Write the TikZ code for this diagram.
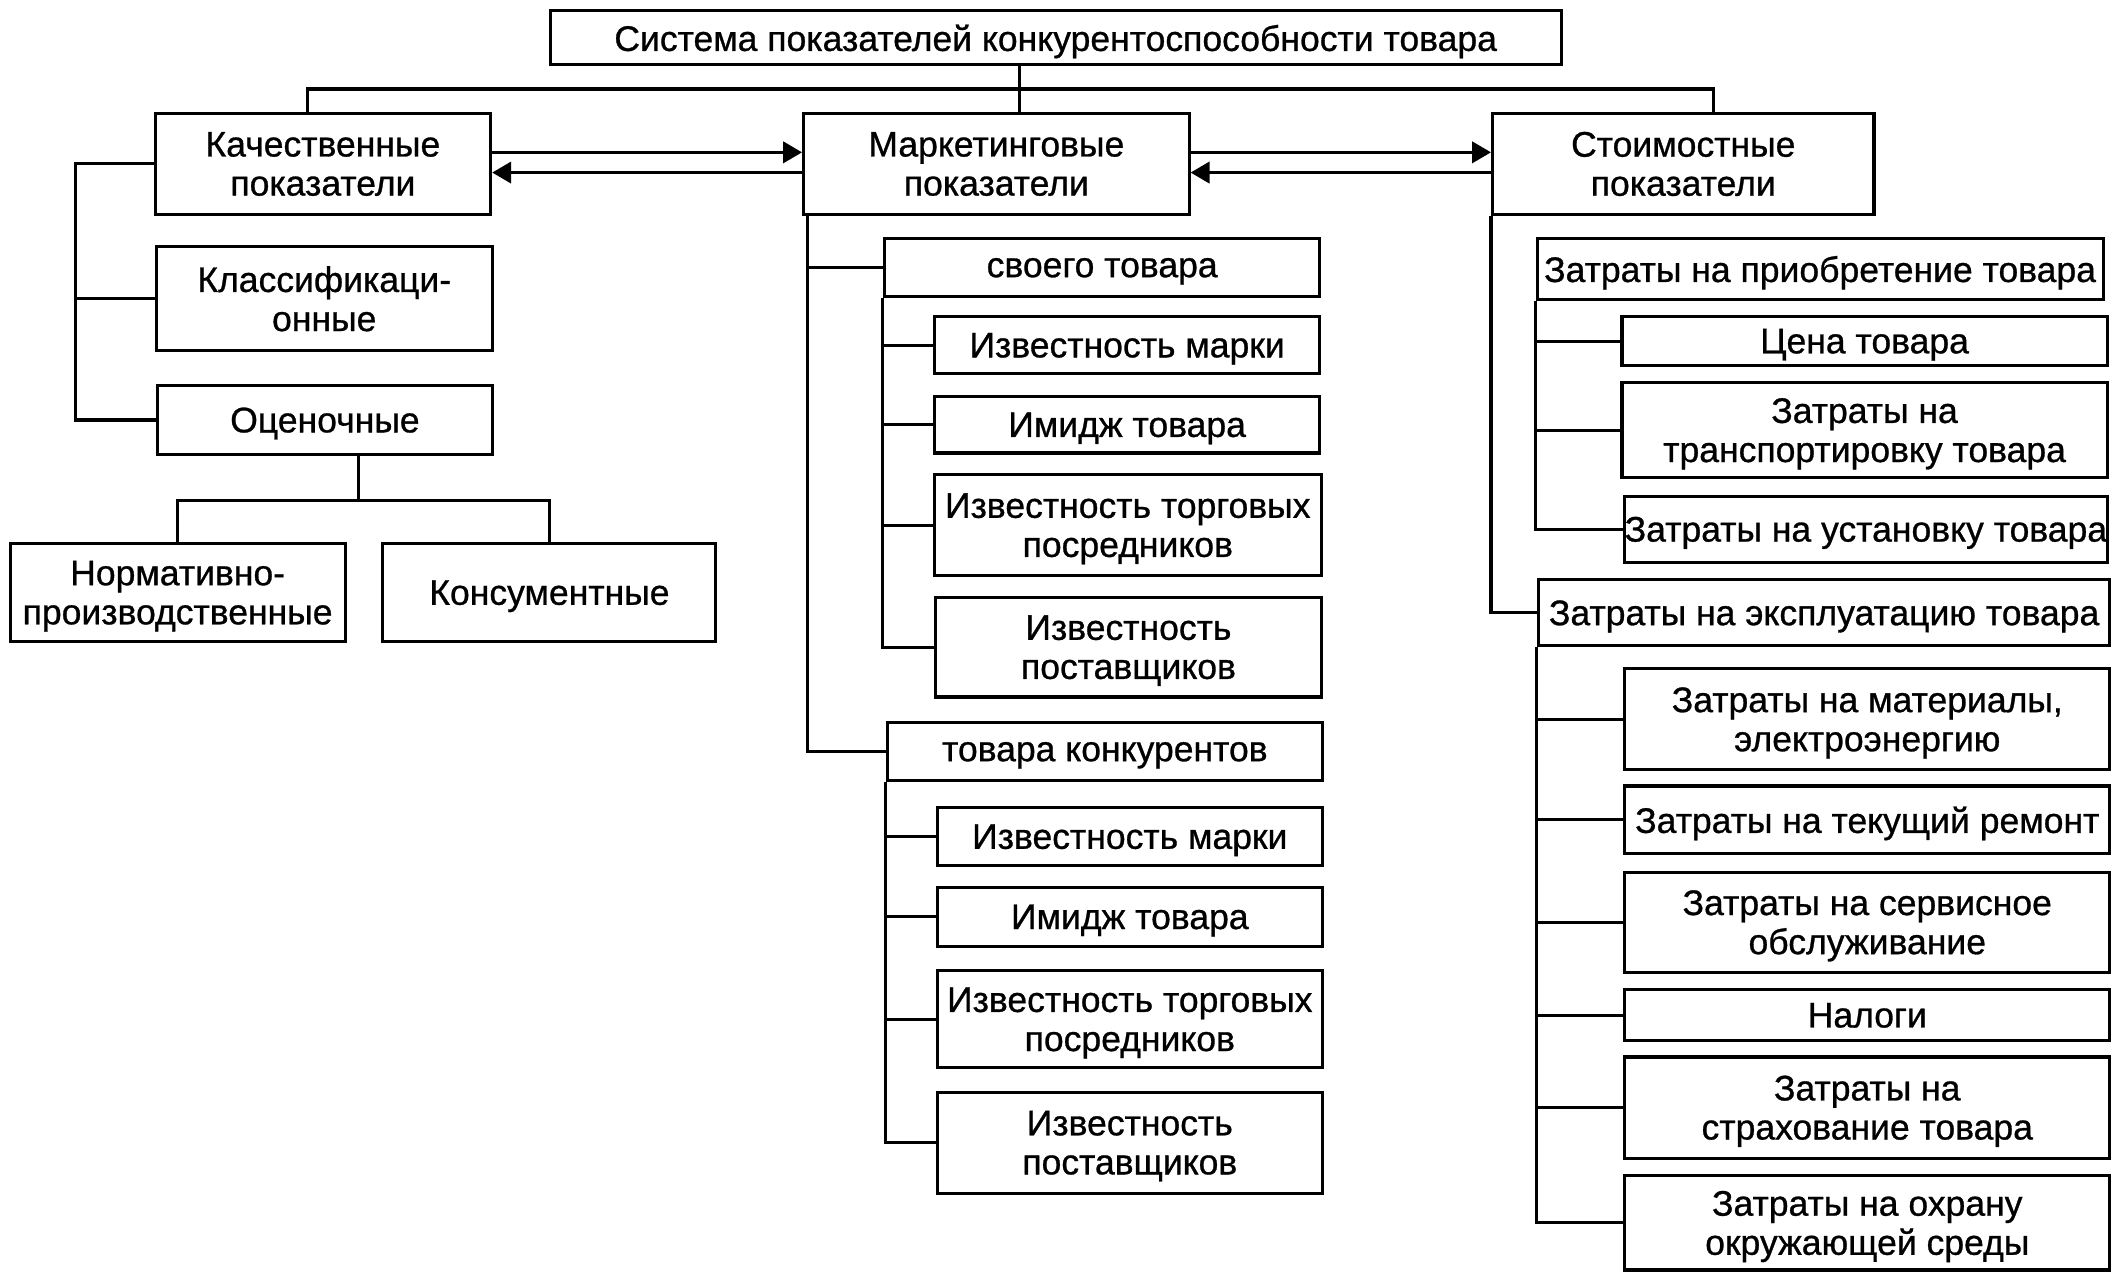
\documentclass[tikz,border=0pt]{standalone}
\usepackage{fontspec}
\setmainfont{Liberation Sans}[FakeBold=0.8]
\usetikzlibrary{arrows.meta}
\tikzset{
  box/.style={draw, line width=1.3pt, align=center, inner sep=0pt, text depth=0pt,
    font=\fontsize{15}{16.5}\selectfont},
  arr/.style={line width=1.3pt, -{Triangle[length=8pt, width=9pt]}}
}
\begin{document}
\begin{tikzpicture}[x=0.02cm, y=-0.02cm, line width=1.3pt]
  \useasboundingbox (0,0) rectangle (1568,945);

  \node[box, minimum width=15cm, minimum height=0.8cm] (title) at (783,28) {Система показателей конкурентоспособности товара};

  \node[box, minimum width=4.98cm, minimum height=1.5cm] (kach) at (239.5,121.5) {Качественные\\показатели};
  \node[box, minimum width=5.72cm, minimum height=1.5cm] (mark) at (739,121.5) {Маркетинговые\\показатели};
  \node[box, minimum width=5.66cm, minimum height=1.5cm] (stoim) at (1248.5,121.5) {Стоимостные\\показатели};

  \coordinate (busL) at (228,66);
  \coordinate (busM) at (756,66);
  \coordinate (busR) at (1271,66);
  \draw (busM |- title.south) -- (busM |- mark.north);
  \draw (busL |- kach.north) -- (busL) -- (busR) -- (busR |- stoim.north);

  \coordinate (up) at (0,113);
  \coordinate (dn) at (0,128);
  \draw[arr] (kach.east |- up) -- (mark.west |- up);
  \draw[arr] (mark.west |- dn) -- (kach.east |- dn);
  \draw[arr] (mark.east |- up) -- (stoim.west |- up);
  \draw[arr] (stoim.west |- dn) -- (mark.east |- dn);

  % left branch
  \node[box, minimum width=4.98cm, minimum height=1.54cm] (klass) at (240.5,221.5) {Классификаци-\\онные};
  \node[box, minimum width=4.96cm, minimum height=1.02cm] (ocen) at (241,311.5) {Оценочные};
  \node[box, minimum width=4.97cm, minimum height=1.46cm] (norm) at (131.75,439.5) {Нормативно-\\производственные};
  \node[box, minimum width=4.94cm, minimum height=1.46cm] (konsum) at (407.5,439.5) {Консументные};

  \coordinate (kspine) at (56,0);
  \draw (kach.west) -- (kach.west -| kspine) |- (ocen.west);
  \draw (klass.west -| kspine) -- (klass.west);
  \coordinate (ocenB) at (266,371);
  \draw (ocen.south -| ocenB) -- (ocenB);
  \draw (norm.north) |- (konsum.north |- ocenB) -- (konsum.north);

  % middle branch
  \node[box, minimum width=6.46cm, minimum height=0.86cm] (svoe) at (817.5,198.5) {своего товара};
  \node[box, minimum width=5.72cm, minimum height=0.84cm] (m1) at (836,256) {Известность марки};
  \node[box, minimum width=5.72cm, minimum height=0.84cm] (m2) at (836,315) {Имидж товара};
  \node[box, minimum width=5.74cm, minimum height=1.5cm] (m3) at (836.5,389.5) {Известность торговых\\посредников};
  \node[box, minimum width=5.72cm, minimum height=1.48cm] (m4) at (837,480) {Известность\\поставщиков};

  \node[box, minimum width=6.46cm, minimum height=0.86cm] (konk) at (819.5,557.5) {товара конкурентов};
  \node[box, minimum width=5.72cm, minimum height=0.86cm] (k1) at (838,620.5) {Известность марки};
  \node[box, minimum width=5.72cm, minimum height=0.88cm] (k2) at (838,680) {Имидж товара};
  \node[box, minimum width=5.72cm, minimum height=1.44cm] (k3) at (838,756) {Известность торговых\\посредников};
  \node[box, minimum width=5.72cm, minimum height=1.5cm] (k4) at (838,847.5) {Известность\\поставщиков};

  \coordinate (mspine) at (599,0);
  \draw (mark.south -| mspine) |- (konk.west);
  \draw (svoe.west -| mspine) -- (svoe.west);
  \draw (svoe.south west) |- (m4.west);
  \foreach \n in {m1,m2,m3}
    \draw (\n.west -| svoe.south west) -- (\n.west);
  \draw (konk.south west) |- (k4.west);
  \foreach \n in {k1,k2,k3}
    \draw (\n.west -| konk.south west) -- (\n.west);

  % right branch
  \node[box, minimum width=8.4cm, minimum height=0.9cm] (pri) at (1350,199.5) {Затраты на приобретение товара};
  \node[box, minimum width=7.2cm, minimum height=0.72cm] (c1) at (1383,253) {Цена товара};
  \node[box, minimum width=7.2cm, minimum height=1.4cm] (c2) at (1383,319) {Затраты на\\транспортировку товара};
  \node[box, minimum width=7.16cm, minimum height=0.98cm] (c3) at (1384,392.5) {Затраты на установку товара};

  \node[box, minimum width=8.48cm, minimum height=0.98cm] (expl) at (1353,454.5) {Затраты на эксплуатацию товара};
  \node[box, minimum width=7.2cm, minimum height=1.5cm] (e1) at (1385,533.5) {Затраты на материалы,\\электроэнергию};
  \node[box, minimum width=7.2cm, minimum height=1cm] (e2) at (1385,608) {Затраты на текущий ремонт};
  \node[box, minimum width=7.2cm, minimum height=1.48cm] (e3) at (1385,684) {Затраты на сервисное\\обслуживание};
  \node[box, minimum width=7.2cm, minimum height=0.76cm] (e4) at (1385,753) {Налоги};
  \node[box, minimum width=7.2cm, minimum height=1.5cm] (e5) at (1385,821.5) {Затраты на\\страхование товара};
  \node[box, minimum width=7.2cm, minimum height=1.4cm] (e6) at (1385,907) {Затраты на охрану\\окружающей среды};

  \draw (stoim.south west) |- (expl.west);
  \draw (pri.south west) |- (c3.west);
  \foreach \n in {c1,c2}
    \draw (\n.west -| pri.south west) -- (\n.west);
  \draw (expl.south west) |- (e6.west);
  \foreach \n in {e1,e2,e3,e4,e5}
    \draw (\n.west -| expl.south west) -- (\n.west);
\end{tikzpicture}
\end{document}
